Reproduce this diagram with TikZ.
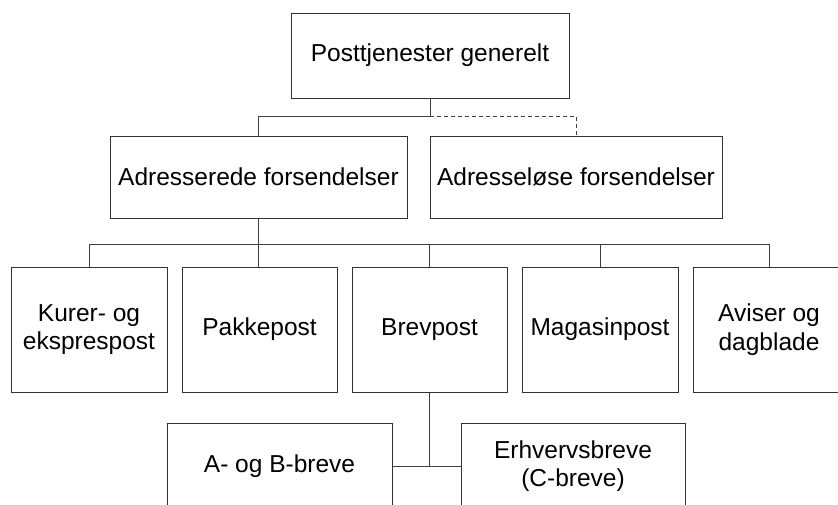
\documentclass[tikz,border=0pt]{standalone}
\usepackage{fontspec}
\setmainfont{Liberation Sans}
\begin{document}
\begin{tikzpicture}[x=1pt,y=-1pt,
  box/.style={draw=black!80,line width=1pt,inner sep=0pt,align=center,
    font=\fontsize{24.5}{28.5}\selectfont,text=black},
  conn/.style={draw=black!75,line width=1pt},
  dashconn/.style={conn,dash pattern=on 4pt off 3pt}]
\useasboundingbox (0,0) rectangle (838,504);
\clip (0,0) rectangle (838,504);
\fill[white] (0,0) rectangle (838,504);
% level 1
\node[box,minimum width=278pt,minimum height=85pt] (top) at (430,55.5) {Posttjenester generelt};
% level 2
\node[box,minimum width=297pt,minimum height=82pt] (adr) at (258.5,177) {Adresserede forsendelser};
\node[box,minimum width=292pt,minimum height=82pt] (adrl) at (576,177) {Adresseløse forsendelser};
% level 3
\node[box,minimum width=156pt,minimum height=125pt] (kurer) at (89,329.5) {Kurer- og\\ekspres\-post};
\node[box,minimum width=155pt,minimum height=125pt] (pakke) at (259.5,329.5) {Pakkepost};
\node[box,minimum width=155pt,minimum height=125pt] (brev) at (429.5,329.5) {Brevpost};
\node[box,minimum width=156pt,minimum height=125pt] (magasin) at (600,329.5) {Magasinpost};
\node[box,minimum width=152pt,minimum height=125pt] (aviser) at (769,329.5) {Aviser og\\dagblade};
% level 4
\node[box,minimum width=225pt,minimum height=86pt] (ab) at (279.5,466) {A- og B-breve};
\node[box,minimum width=224pt,minimum height=86pt] (erh) at (573,466) {Erhvervsbreve\\(C-breve)};
% connectors
\coordinate (j1) at (430,116);
\coordinate (bus) at (0,244);
\draw[conn] (top.south) -- (j1) -| (adr.north);
\draw[dashconn] (j1) -| (adrl.north);
\draw[conn] (adr.south) -- (adr.south |- pakke.north);
\draw[conn] (kurer.north) |- (bus -| aviser.north) -- (aviser.north);
\draw[conn] (brev.north) -- (brev.north |- bus);
\draw[conn] (magasin.north) -- (magasin.north |- bus);
\draw[conn] (brev.south) -- (brev.south |- ab.east);
\draw[conn] (ab.east) -- (erh.west);
\end{tikzpicture}
\end{document}
